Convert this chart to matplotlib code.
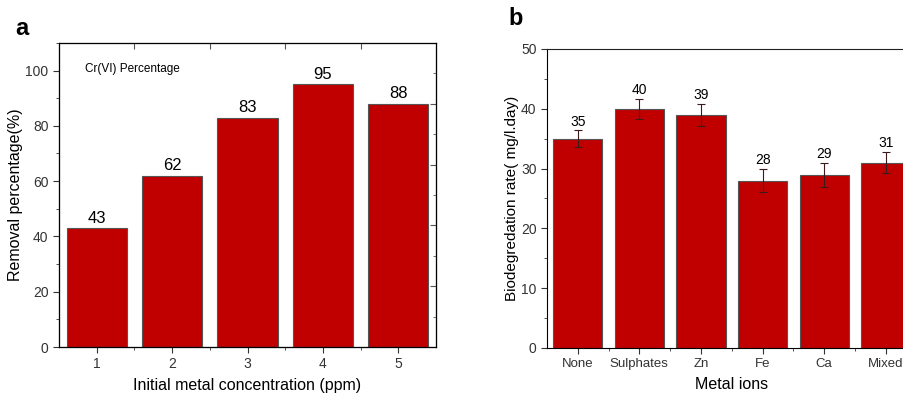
import matplotlib.pyplot as plt
from matplotlib.ticker import MultipleLocator, FixedLocator

plt.rcParams['font.family'] = ['Liberation Sans', 'DejaVu Sans']

# panel a data
conc = [1, 2, 3, 4, 5]
removal = [43, 62, 83, 95, 88]

# panel b data
ions = ["None", "Sulphates", "Zn", "Fe", "Ca", "Mixed"]
rate = [35, 40, 39, 28, 29, 31]
rate_err = [1.4, 1.7, 1.8, 1.9, 2.0, 1.8]

bar_color = "#C00000"
edge = "#555555"

fig = plt.figure(figsize=(9.04, 3.95), dpi=100)

# ---- panel a ----
ax1 = fig.add_axes([0.0653, 0.1215, 0.417, 0.770])
ax1.bar(conc, removal, width=0.8, color=bar_color, edgecolor=edge, linewidth=0.8)
for x, v in zip(conc, removal):
    ax1.text(x, v + 0.8, str(v), ha="center", va="bottom", fontsize=12)
ax1.set_xlim(0.5, 5.5)
ax1.set_ylim(0, 110)
ax1.yaxis.set_major_locator(MultipleLocator(20))
ax1.yaxis.set_minor_locator(MultipleLocator(10))
ax1.xaxis.set_major_locator(FixedLocator(conc))
ax1.xaxis.set_minor_locator(FixedLocator([1.5, 2.5, 3.5, 4.5]))
ax1.tick_params(which="both", direction="out", labelsize=10, colors="#333333")
ax1.tick_params(which="major", length=4)
ax1.tick_params(which="minor", length=2.5)
ax1.set_xlabel("Initial metal concentration (ppm)", fontsize=11.5, labelpad=5)
ax1.set_ylabel("Removal percentage(%)", fontsize=11.5, labelpad=2)
ax1.text(0.07, 0.905, "Cr(VI) Percentage", transform=ax1.transAxes, fontsize=8.5)
for s in ax1.spines.values():
    s.set_color("#555555")

# right side ticks (secondary scale) and top ticks
axr = ax1.twinx()
axr.set_ylim(0, 100)
axr.yaxis.set_major_locator(FixedLocator([20, 40, 60, 80]))
axr.yaxis.set_minor_locator(FixedLocator([10, 30, 50, 70, 90]))
axr.tick_params(which="both", direction="in", labelright=False, colors="#555555")
axr.tick_params(which="major", length=4)
axr.tick_params(which="minor", length=2.5)
axt = ax1.twiny()
axt.set_xlim(0.5, 5.5)
axt.xaxis.set_major_locator(FixedLocator([1.5, 2.5, 3.5, 4.5]))
axt.tick_params(direction="in", labeltop=False, length=4, colors="#555555")

fig.text(0.017, 0.929, "a", fontsize=17, fontweight="bold", va="center")

# ---- panel b ----
ax2 = fig.add_axes([0.605, 0.119, 0.409, 0.757])
xpos = range(len(ions))
ax2.bar(xpos, rate, width=0.8, color=bar_color, edgecolor=edge, linewidth=0.8)
ax2.errorbar(xpos, rate, yerr=rate_err, fmt="none", ecolor="#3a1a1a",
             elinewidth=0.8, capsize=3, capthick=0.8)
for x, v, e in zip(xpos, rate, rate_err):
    ax2.text(x, v + e + 0.3, str(v), ha="center", va="bottom", fontsize=10)
ax2.set_xlim(-0.5, 5.5)
ax2.set_ylim(0, 50)
ax2.set_xticks(list(xpos))
ax2.set_xticklabels(ions)
ax2.xaxis.set_minor_locator(FixedLocator([0.5, 1.5, 2.5, 3.5, 4.5]))
ax2.yaxis.set_major_locator(MultipleLocator(10))
ax2.yaxis.set_minor_locator(MultipleLocator(5))
ax2.tick_params(which="both", direction="out", colors="#333333")
ax2.tick_params(axis="x", labelsize=9.5)
ax2.tick_params(axis="y", labelsize=10)
ax2.tick_params(which="major", length=4)
ax2.tick_params(which="minor", length=2.5)
ax2.spines["right"].set_visible(False)
ax2.spines["top"].set_color("#222222")
ax2.set_xlabel("Metal ions", fontsize=11.5, labelpad=5)
ax2.set_ylabel("Biodegredation rate( mg/l.day)", fontsize=11, labelpad=1)

fig.text(0.562, 0.952, "b", fontsize=17, fontweight="bold", va="center")

plt.savefig("out.png", dpi=100)
